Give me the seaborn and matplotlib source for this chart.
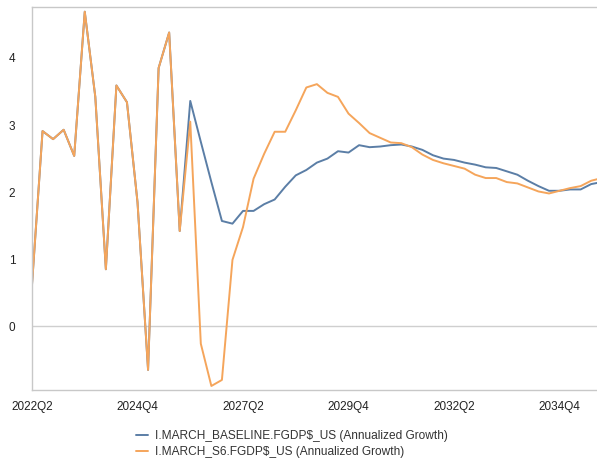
import pandas as pd
import matplotlib
matplotlib.use('Agg')
import matplotlib.pyplot as plt
import seaborn as sns

# Quarterly annualized growth (2022Q2 onward)
baseline = [0.62, 2.91, 2.79, 2.93, 2.54, 4.69, 3.42, 0.85, 3.59, 3.34,
            1.85, -0.65, 3.85, 4.38, 1.42, 3.36, 2.75, 2.15, 1.57, 1.53,
            1.72, 1.72, 1.82, 1.89, 2.08, 2.25, 2.33, 2.44, 2.50, 2.61,
            2.59, 2.70, 2.67, 2.68, 2.70, 2.71, 2.68, 2.63, 2.55, 2.50,
            2.48, 2.44, 2.41, 2.37, 2.36, 2.31, 2.26, 2.17, 2.09, 2.02,
            2.02, 2.04, 2.04, 2.12, 2.15]
s6 = [0.62, 2.91, 2.79, 2.93, 2.54, 4.69, 3.42, 0.85, 3.59, 3.34,
      1.85, -0.65, 3.85, 4.38, 1.42, 3.05, -0.26, -0.89, -0.80, 0.99,
      1.48, 2.20, 2.57, 2.90, 2.90, 3.22, 3.56, 3.61, 3.48, 3.42,
      3.17, 3.03, 2.88, 2.81, 2.74, 2.73, 2.67, 2.56, 2.48, 2.43,
      2.39, 2.35, 2.26, 2.21, 2.21, 2.15, 2.13, 2.07, 2.01, 1.98,
      2.02, 2.06, 2.09, 2.17, 2.21]
quarters = [str(p) for p in pd.period_range('2022Q2', periods=len(baseline), freq='Q')]

name_base = 'I.MARCH_BASELINE.FGDP$_US (Annualized Growth)'
name_s6 = 'I.MARCH_S6.FGDP$_US (Annualized Growth)'

df = pd.DataFrame({
    'idx': list(range(len(baseline))) * 2,
    'value': baseline + s6,
    'series': [name_base] * len(baseline) + [name_s6] * len(s6),
})

sns.set_style('white')
plt.rcParams['font.family'] = ['Liberation Sans', 'DejaVu Sans']

fig = plt.figure(figsize=(5.97, 4.63), dpi=100)
ax = fig.add_axes([32 / 597, 1 - 390 / 463, 1 - 32 / 597, (390 - 7) / 463])

sns.lineplot(data=df, x='idx', y='value', hue='series',
             palette={name_base: '#5b7ea6', name_s6: '#f5a55b'},
             linewidth=1.4, ax=ax, legend=False)

ax.axhline(0, color='#cfcfcf', linewidth=1.0, zorder=0)
ax.set_xlim(0, 53.55)
ax.set_ylim(-0.95, 4.76)

tick_pos = list(range(0, len(quarters), 10))
ax.set_xticks(tick_pos)
ax.set_xticklabels([quarters[i] for i in tick_pos], fontsize=8.5, color='#222222')
ax.set_yticks([0, 1, 2, 3, 4])
ax.set_yticklabels(['0', '1', '2', '3', '4'], fontsize=8.5, color='#222222')
ax.tick_params(axis='both', length=0)
ax.tick_params(axis='x', pad=8)
ax.tick_params(axis='y', pad=12)
ax.set_xlabel('')
ax.set_ylabel('')

for side in ['left', 'top', 'bottom']:
    ax.spines[side].set_color('#c8c8c8')
    ax.spines[side].set_linewidth(1.0)
ax.spines['right'].set_visible(False)

handles = [plt.Line2D([], [], color='#5b7ea6', lw=1.4),
           plt.Line2D([], [], color='#f5a55b', lw=1.4)]
fig.legend(handles, [name_base, name_s6], loc='center',
           bbox_to_anchor=(292 / 597, 1 - 444 / 463), frameon=False,
           fontsize=8.6, handlelength=1.0, handletextpad=0.6,
           labelspacing=0.3, labelcolor='#333333')

fig.savefig('out.png', dpi=100)
